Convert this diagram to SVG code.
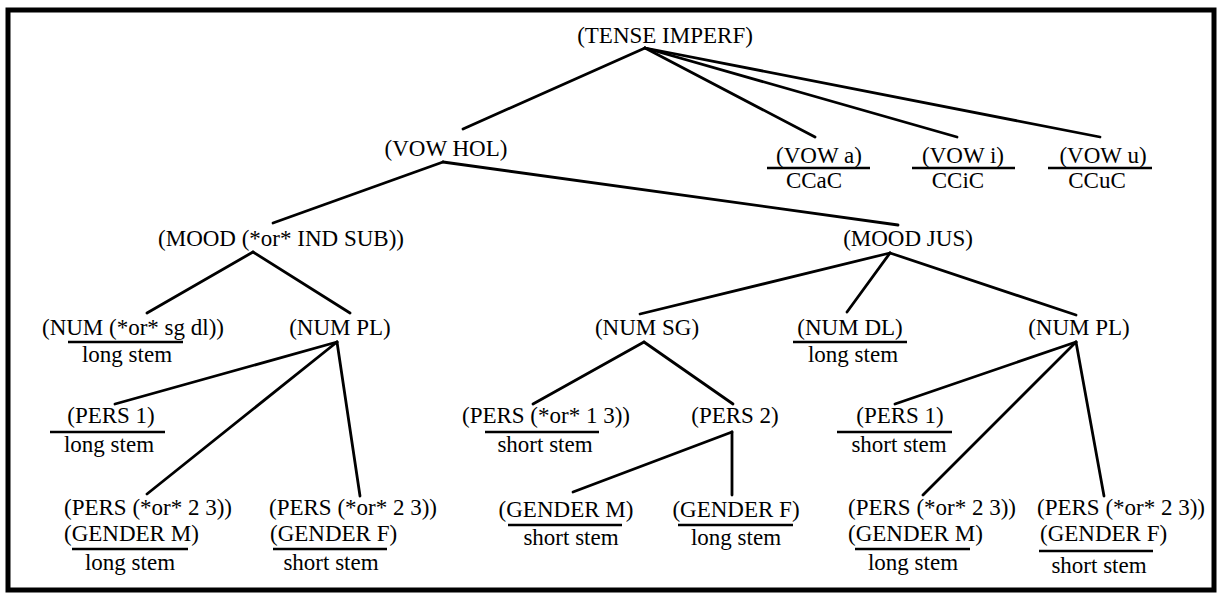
<svg xmlns="http://www.w3.org/2000/svg" width="1218" height="594" viewBox="0 0 1218 594">
<style>
text{font-family:"Liberation Serif","Times New Roman",serif;font-size:23px;fill:#000}
.c{text-anchor:middle}
.ul{stroke:#000;stroke-width:2.6}
#edges line{stroke:#000;stroke-width:2.8;stroke-linecap:round}
</style>
<rect x="0" y="0" width="1218" height="594" fill="#fff"/>
<rect x="8" y="10" width="1206" height="580" fill="none" stroke="#000" stroke-width="5"/>
<g id="edges">
<line x1="645" y1="48" x2="463" y2="129"/>
<line x1="645" y1="48" x2="815" y2="137"/>
<line x1="645" y1="48" x2="957" y2="137"/>
<line x1="645" y1="48" x2="1100" y2="137"/>
<line x1="443" y1="162" x2="273" y2="223"/>
<line x1="443" y1="162" x2="898" y2="225"/>
<line x1="253" y1="252" x2="147" y2="313"/>
<line x1="253" y1="252" x2="350" y2="313"/>
<line x1="337" y1="342" x2="115" y2="404"/>
<line x1="337" y1="342" x2="147" y2="494"/>
<line x1="337" y1="342" x2="360" y2="496"/>
<line x1="890" y1="253" x2="640" y2="314"/>
<line x1="890" y1="253" x2="847" y2="312"/>
<line x1="890" y1="253" x2="1076" y2="315"/>
<line x1="644" y1="342" x2="533" y2="404"/>
<line x1="644" y1="342" x2="733" y2="404"/>
<line x1="732" y1="432" x2="573" y2="492"/>
<line x1="732" y1="432" x2="732" y2="495"/>
<line x1="1076" y1="342" x2="895" y2="404"/>
<line x1="1076" y1="342" x2="923" y2="495"/>
<line x1="1076" y1="342" x2="1104" y2="496"/>
</g>
<g id="n-tense"><text class="c" x="665" y="43">(TENSE IMPERF)</text></g>
<g id="n-vowhol"><text class="c" x="446" y="156">(VOW HOL)</text></g>
<g id="n-vowa"><text class="c" x="819" y="163">(VOW a)</text><line class="ul" x1="767" y1="168" x2="870" y2="168"/><text class="c" x="814" y="188">CCaC</text></g>
<g id="n-vowi"><text class="c" x="963" y="163">(VOW i)</text><line class="ul" x1="912" y1="168" x2="1015" y2="168"/><text class="c" x="958" y="188">CCiC</text></g>
<g id="n-vowu"><text class="c" x="1103" y="163">(VOW u)</text><line class="ul" x1="1048" y1="168" x2="1152" y2="168"/><text class="c" x="1097" y="188">CCuC</text></g>
<g id="n-mood-indsub"><text class="c" x="281" y="246">(MOOD (*or* IND SUB))</text></g>
<g id="n-mood-jus"><text class="c" x="908" y="246">(MOOD JUS)</text></g>
<g id="n-num-sgdl"><text class="c" x="133" y="335">(NUM (*or* sg dl))</text><line class="ul" x1="68" y1="342" x2="183" y2="342"/><text class="c" x="127" y="362">long stem</text></g>
<g id="n-num-pl-a"><text class="c" x="340" y="335">(NUM PL)</text></g>
<g id="n-pers1-a"><text class="c" x="111" y="423">(PERS 1)</text><line class="ul" x1="50" y1="432" x2="165" y2="432"/><text class="c" x="109" y="452">long stem</text></g>
<g id="n-pers23m-a"><text x="64" y="515">(PERS (*or* 2 3))</text><text x="64" y="541">(GENDER M)</text><line class="ul" x1="72" y1="549" x2="188" y2="549"/><text class="c" x="130" y="570">long stem</text></g>
<g id="n-pers23f-a"><text x="269" y="515">(PERS (*or* 2 3))</text><text x="270" y="541">(GENDER F)</text><line class="ul" x1="273" y1="549" x2="387" y2="549"/><text class="c" x="331" y="570">short stem</text></g>
<g id="n-num-sg"><text class="c" x="647" y="335">(NUM SG)</text></g>
<g id="n-num-dl"><text class="c" x="850" y="335">(NUM DL)</text><line class="ul" x1="793" y1="342" x2="907" y2="342"/><text class="c" x="853" y="362">long stem</text></g>
<g id="n-num-pl-b"><text class="c" x="1079" y="335">(NUM PL)</text></g>
<g id="n-pers13"><text class="c" x="546" y="423">(PERS (*or* 1 3))</text><line class="ul" x1="485" y1="432" x2="599" y2="432"/><text class="c" x="545" y="452">short stem</text></g>
<g id="n-pers2"><text class="c" x="735" y="423">(PERS 2)</text></g>
<g id="n-gender-m-b"><text class="c" x="566" y="517">(GENDER M)</text><line class="ul" x1="508" y1="525" x2="622" y2="525"/><text class="c" x="571" y="545">short stem</text></g>
<g id="n-gender-f-b"><text class="c" x="736" y="517">(GENDER F)</text><line class="ul" x1="678" y1="525" x2="793" y2="525"/><text class="c" x="736" y="545">long stem</text></g>
<g id="n-pers1-c"><text class="c" x="900" y="423">(PERS 1)</text><line class="ul" x1="837" y1="432" x2="952" y2="432"/><text class="c" x="899" y="452">short stem</text></g>
<g id="n-pers23m-c"><text x="848" y="515">(PERS (*or* 2 3))</text><text x="848" y="541">(GENDER M)</text><line class="ul" x1="855" y1="549" x2="970" y2="549"/><text class="c" x="913" y="570">long stem</text></g>
<g id="n-pers23f-c"><text x="1037" y="515">(PERS (*or* 2 3))</text><text x="1040" y="541">(GENDER F)</text><line class="ul" x1="1039" y1="551" x2="1153" y2="551"/><text class="c" x="1099" y="573">short stem</text></g>
</svg>
